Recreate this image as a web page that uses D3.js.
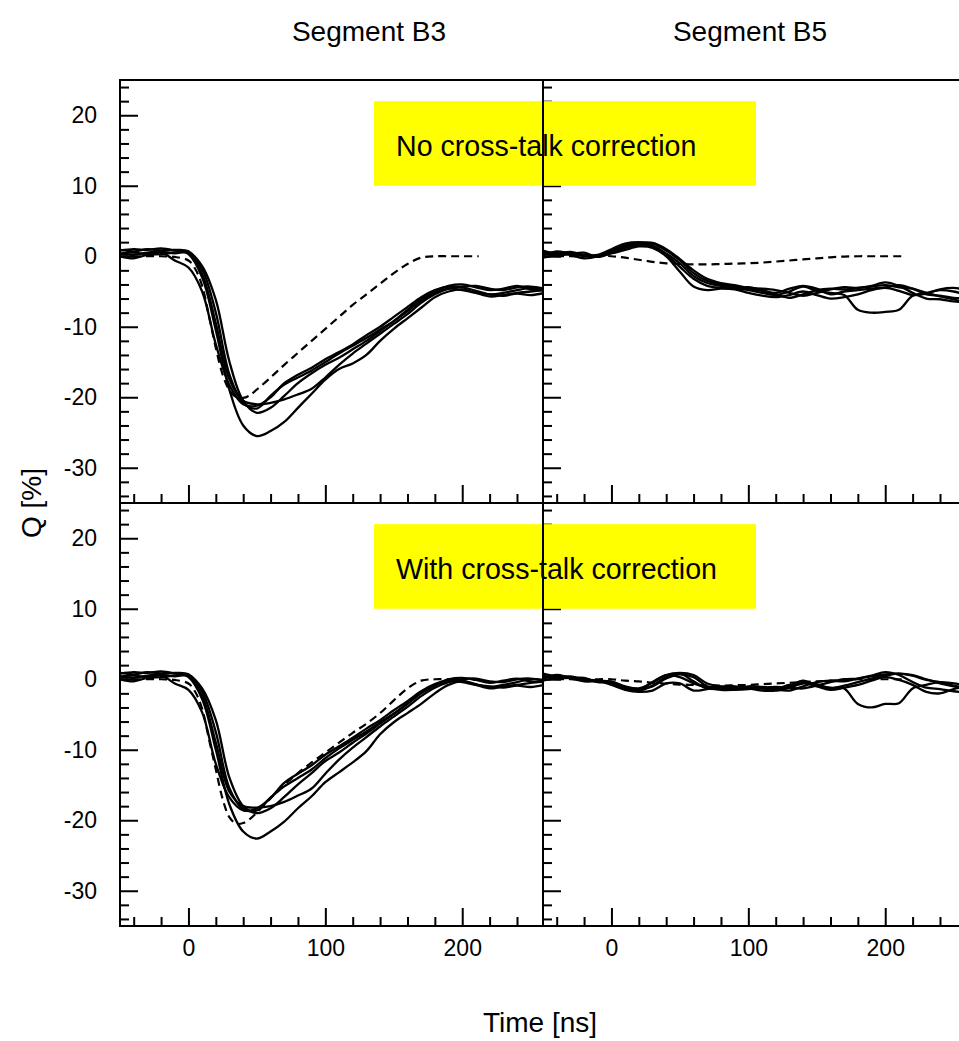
<!DOCTYPE html>
<html>
<head>
<meta charset="utf-8">
<script src="https://cdn.jsdelivr.net/npm/d3@7"></script>
<style>
  html, body { margin: 0; padding: 0; background: #fff; }
  svg { display: block; }
  text { font-family: "Liberation Sans", Arial, sans-serif; fill: #000; }
</style>
</head>
<body>
<svg id="chart" width="959" height="1041"></svg>
<script>
// ---------------- DATA ----------------
const panelTitles = ["Segment B3", "Segment B5"];
const boxLabels = ["No cross-talk correction", "With cross-talk correction"];
const xLabel = "Time [ns]";
const yLabel = "Q [%]";

const xTickLabels = [0, 100, 200];
const yTickLabels = [-30, -20, -10, 0, 10, 20];

// sample times (ns) for measured traces
const tSamples = [-50,-40,-30,-20,-10,0,10,20,30,40,50,60,70,80,90,100,110,120,130,140,150,160,170,180,190,200,210,220,230,240,250,260];

// Segment B3, no correction (5 measured traces)
const b3Raw1 = [0.3,0.2,0.5,0.6,-0.6,-1.6,-5,-12.5,-18.3,-21,-21.2,-20,-18,-16.8,-15.8,-14.6,-13.6,-12.5,-11.2,-10,-8.6,-7.2,-5.8,-4.8,-4.3,-4.4,-4.9,-5.4,-5.2,-4.8,-4.5,-4.6];
const b3Raw2 = [0.8,1.0,0.9,1.1,0.8,0.3,-3,-10.5,-19,-24,-25.5,-24.8,-23.5,-21.5,-19.5,-17.5,-16,-15.2,-14,-12,-10.3,-8.8,-7.3,-5.8,-5,-4.7,-5.2,-5.7,-5.5,-5.2,-5,-4.8];
const b3Raw3 = [0,-0.3,0.2,0.3,0.5,0.6,-1.4,-6.2,-15,-20.5,-22.2,-21.5,-19.8,-18,-16.6,-15.4,-14.4,-13.2,-12,-10.6,-9.2,-7.8,-6.3,-5.2,-4.6,-4.8,-5.2,-5.4,-5.6,-5.3,-5.5,-5.2];
const b3Raw4 = [0.4,0.5,0.3,0.6,0.4,0.5,-2.5,-9.5,-17.5,-20.5,-21,-20.8,-20.3,-19.6,-18.8,-17.2,-15.4,-13.8,-12.4,-11,-9.6,-8.2,-6.6,-5.4,-4.6,-4.3,-4.2,-4.6,-4.8,-4.4,-4.3,-4.6];
const b3Raw5 = [0.9,0.7,1.0,0.8,0.9,0.7,-1.8,-8,-16.8,-20.8,-21.6,-19.8,-18.2,-17.2,-16.2,-15,-13.8,-12.7,-11.6,-10.4,-9.2,-7.6,-6,-4.9,-4.2,-4,-4.4,-4.8,-4.6,-4.2,-4.7,-4.8];

// Segment B3, with correction
const b3Cor1 = [0.3,0.2,0.5,0.6,-0.6,-1.5,-4.7,-12,-16.8,-18.6,-18.3,-16.8,-14.7,-13.4,-12.2,-10.7,-9.5,-8.3,-7,-5.8,-4.4,-3.1,-1.7,-0.7,-0.1,-0.2,-0.7,-1.1,-0.8,-0.4,0,-0.1];
const b3Cor2 = [0.8,1.0,0.9,1.1,0.8,0.3,-2.8,-10,-17.8,-21.6,-22.6,-21.6,-20.2,-18.3,-16.6,-14.6,-13.2,-11.8,-10.2,-7.8,-6.1,-4.8,-3.5,-2,-0.8,-0.3,-0.8,-1.3,-1,-0.8,-0.5,-0.3];
const b3Cor3 = [0,-0.3,0.2,0.3,0.5,0.6,-1.3,-5.8,-14,-18,-19,-18.3,-16.7,-14.9,-13.3,-11.6,-10.4,-9,-7.7,-6.3,-4.9,-3.5,-2,-0.9,-0.3,-0.4,-0.8,-1,-1.2,-0.9,-1.1,-0.8];
const b3Cor4 = [0.4,0.5,0.3,0.6,0.4,0.5,-2.3,-9,-16,-18,-18.2,-18,-17.4,-16.5,-15.5,-13.4,-11.4,-9.7,-8.2,-6.7,-5.3,-3.9,-2.4,-1.2,-0.4,0,0.1,-0.3,-0.4,0,0.1,-0.2];
const b3Cor5 = [0.9,0.7,1.0,0.8,0.9,0.7,-1.7,-7.5,-15.5,-18.4,-18.6,-16.8,-15.2,-14,-12.8,-11.2,-9.8,-8.6,-7.4,-6.1,-4.9,-3.4,-1.9,-0.8,0,0.2,-0.1,-0.5,-0.2,0.1,-0.3,-0.4];

// Segment B5, no correction
const b5Raw1 = [0.3,0.5,0.2,-0.3,0,0.8,1.5,1.9,1.5,0.2,-1.5,-3.2,-4.2,-4.5,-4.6,-4.8,-5.2,-5.5,-5,-4.3,-4.9,-5.2,-5.5,-7.6,-8,-7.9,-7.6,-5.6,-5.2,-4.8,-5,-5.5];
const b5Raw2 = [0.8,0.4,0.6,0.2,0.2,1.0,1.8,2,1.8,0.8,-0.6,-2.4,-3.5,-4,-4.3,-4.6,-4.9,-5.4,-5.9,-5.4,-4.8,-4.6,-4.7,-4.5,-4.2,-3.7,-4.2,-5.2,-6,-6.1,-6.4,-6.5];
const b5Raw3 = [-0.2,0.2,0.5,0,0.1,0.6,1.2,1.6,1.9,1,-0.4,-2,-3.2,-3.8,-4.1,-4.5,-4.6,-4.8,-5.2,-5.6,-5.2,-4.7,-4.4,-4.5,-4.3,-4.1,-4.4,-4.6,-5.2,-5.7,-6.1,-6.8];
const b5Raw4 = [0.5,0.1,0.3,0.1,0,0.4,0.9,1.4,1.2,0,-2.2,-4.3,-4.8,-4.6,-4.7,-5.2,-5.6,-5.8,-5.5,-5,-5.5,-6,-5.8,-5.4,-4.8,-4.5,-4.9,-5.5,-5.3,-4.7,-4.5,-4.8];
const b5Raw5 = [0.1,0.7,0.4,0.5,-0.1,0.5,1.3,1.7,1.4,0.4,-1,-2.8,-3.8,-4.2,-4.5,-4.4,-4.8,-5.2,-4.6,-4.2,-4.6,-5.4,-5,-4.8,-4.6,-4.4,-4.1,-4.6,-5.4,-5.6,-5.9,-6];

// Segment B5, with correction
const b5Cor1 = [0.3,0.4,0.1,-0.3,-0.3,-0.5,-1.2,-1.6,-0.9,0.3,0.8,-0.3,-1.3,-1.4,-1.3,-1.2,-1.3,-1.4,-1,-0.2,-0.9,-1.2,-1.3,-3.5,-4,-3.5,-3.4,-1.3,-0.8,-0.4,-0.6,-0.9];
const b5Cor2 = [0.8,0.4,0.4,0,-0.2,-0.3,-1,-1.3,-0.5,0.6,0.9,0.6,-0.6,-1,-1.1,-1.2,-1.3,-1.5,-1.6,-1,-0.4,-0.2,-0.3,0.1,0.5,1,0.6,-0.4,-1.2,-1.4,-1.7,-1.9];
const b5Cor3 = [-0.2,0.2,0.3,-0.1,-0.3,-0.6,-1.4,-1.5,-0.4,0.6,0.3,-0.6,-1.2,-1.5,-1.5,-1.4,-1.2,-1.1,-1.2,-1.3,-0.9,-0.4,0,0.1,0.4,0.7,0.8,0.6,0,-0.6,-1,-1.5];
const b5Cor4 = [0.5,0.1,0.2,-0.1,-0.2,-0.8,-1.5,-1.8,-1.6,-0.6,-0.6,-1.6,-1.4,-1.1,-1,-1.3,-1.6,-1.6,-1.2,-0.6,-1,-1.5,-1.2,-0.8,-0.2,0.3,-0.1,-0.8,-1.8,-2,-1.4,-1];
const b5Cor5 = [0.1,0.6,0.2,0.2,-0.4,-0.4,-1.1,-1.4,-1,0.1,0.7,0.3,-1,-1.2,-1.4,-1,-1.1,-1.3,-0.8,-0.5,-0.7,-1.3,-0.9,-0.4,0.1,0.5,0.8,0.5,-0.1,-0.4,-0.9,-1.3];

// simulated (dashed) responses
const dashT = [-50,-40,-30,-20,-10,0,5,10,15,20,25,30,35,40,45,50,60,70,80,90,100,110,120,130,140,150,160,170,180,190,200,212];
const b3SimRaw = [0,0,0,0,-0.1,-0.6,-1.8,-4.2,-8.5,-13,-16.8,-19,-20,-20.1,-19.7,-18.9,-17.2,-15.4,-13.7,-12,-10.3,-8.6,-6.9,-5.4,-3.9,-2.4,-1.1,-0.2,0,0,0,0];
const b3SimCor = [0,0,0,0,-0.1,-0.6,-1.8,-4.2,-8.5,-12.8,-17,-19.6,-20.5,-20.4,-19.8,-18.9,-16.9,-15,-13.3,-11.8,-10.4,-9,-7.6,-6.3,-4.8,-3,-1.3,-0.2,0,0,0,0];
const b5SimRaw = [0,0,0,0,0.1,0,-0.1,-0.2,-0.35,-0.5,-0.65,-0.8,-0.9,-1,-1.05,-1.1,-1.15,-1.15,-1.1,-1.05,-1,-0.9,-0.75,-0.6,-0.45,-0.3,-0.15,-0.05,0,0,0,0];
const b5SimCor = [0,0,0,0,0,0,-0.1,-0.2,-0.25,-0.3,-0.4,-0.5,-0.55,-0.6,-0.7,-0.75,-0.8,-0.85,-0.9,-0.85,-0.8,-0.7,-0.6,-0.5,-0.4,-0.3,-0.2,-0.1,0,0,0,0];

// ---------------- LAYOUT ----------------
const svg = d3.select("#chart");
const L = 120, M = 543, R = 966, T = 80, H = 503, B = 926;
const xDomain = [-50, 259], yDomain = [-35, 25];

const xScales = [
  d3.scaleLinear().domain(xDomain).range([L, M]),
  d3.scaleLinear().domain(xDomain).range([M, R])
];
const yScales = [
  d3.scaleLinear().domain(yDomain).range([H, T]),
  d3.scaleLinear().domain(yDomain).range([B, H])
];

const panels = [
  {col: 0, row: 0, traces: [b3Raw1,b3Raw2,b3Raw3,b3Raw4,b3Raw5], sim: b3SimRaw},
  {col: 1, row: 0, traces: [b5Raw1,b5Raw2,b5Raw3,b5Raw4,b5Raw5], sim: b5SimRaw},
  {col: 0, row: 1, traces: [b3Cor1,b3Cor2,b3Cor3,b3Cor4,b3Cor5], sim: b3SimCor},
  {col: 1, row: 1, traces: [b5Cor1,b5Cor2,b5Cor3,b5Cor4,b5Cor5], sim: b5SimCor}
];

const defs = svg.append("defs");
panels.forEach((p, i) => {
  const x = xScales[p.col], y = yScales[p.row];
  defs.append("clipPath").attr("id", "clip" + i)
    .append("rect")
    .attr("x", x.range()[0]).attr("y", y.range()[1])
    .attr("width", x.range()[1] - x.range()[0])
    .attr("height", y.range()[0] - y.range()[1]);
});

const minorY = d3.range(-34, 25, 2);
const minorX = d3.range(-40, 259, 20);
const fmt = d => String(d);

panels.forEach((p, i) => {
  const x = xScales[p.col], y = yScales[p.row];
  const g = svg.append("g").attr("clip-path", `url(#clip${i})`);
  const line = d3.line().x((d, j) => x(tSamples[j])).y(d => y(d)).curve(d3.curveCatmullRom.alpha(0.5));
  const dline = d3.line().x((d, j) => x(dashT[j])).y(d => y(d)).curve(d3.curveCatmullRom.alpha(0.5));
  g.append("path").datum(p.sim).attr("d", dline)
    .attr("fill", "none").attr("stroke", "#000").attr("stroke-width", 2.2)
    .attr("stroke-dasharray", "8,5");
  p.traces.forEach(tr => {
    g.append("path").datum(tr).attr("d", line)
      .attr("fill", "none").attr("stroke", "#000").attr("stroke-width", 2.3)
      .attr("stroke-linejoin", "round");
  });

  // y ticks (inside, pointing right)
  const yMinor = svg.append("g").attr("transform", `translate(${x.range()[0]},0)`)
    .call(d3.axisLeft(y).tickValues(minorY.filter(v => v % 10 !== 0)).tickSize(-9).tickFormat(""));
  const yMajor = svg.append("g").attr("transform", `translate(${x.range()[0]},0)`)
    .call(d3.axisLeft(y).tickValues(yTickLabels).tickSize(-18).tickPadding(23)
      .tickFormat(p.col === 0 ? fmt : ""));
  // x ticks (inside, pointing up)
  const xMinor = svg.append("g").attr("transform", `translate(0,${y.range()[0]})`)
    .call(d3.axisBottom(x).tickValues(minorX.filter(v => v % 100 !== 0)).tickSize(-9).tickFormat(""));
  const xMajor = svg.append("g").attr("transform", `translate(0,${y.range()[0]})`)
    .call(d3.axisBottom(x).tickValues(xTickLabels).tickSize(-18).tickPadding(14)
      .tickFormat(p.row === 1 ? fmt : ""));
  [yMinor, yMajor, xMinor, xMajor].forEach(a => {
    a.select(".domain").remove();
    a.selectAll(".tick line").attr("stroke", "#000").attr("stroke-width", 2);
    a.selectAll(".tick text").style("font-size", "23px")
      .style("font-family", '"Liberation Sans", Arial, sans-serif').attr("fill", "#000");
  });
});

// yellow boxes
yScales.forEach((y, r) => {
  svg.append("rect").attr("x", 374).attr("y", y(22))
    .attr("width", 382).attr("height", y(10) - y(22)).attr("fill", "#ffff00");
  svg.append("text").attr("x", 396).attr("y", y(22) + 55)
    .style("font-size", "28.6px").text(boxLabels[r]);
});

// frame lines
const frame = svg.append("g").attr("stroke", "#000").attr("stroke-width", 2);
[L, M].forEach(xx => frame.append("line").attr("x1", xx).attr("x2", xx).attr("y1", T).attr("y2", B));
[T, H, B].forEach(yy => frame.append("line").attr("x1", L - 1).attr("x2", R).attr("y1", yy).attr("y2", yy));

// titles and axis labels
svg.append("text").attr("x", 369).attr("y", 41).attr("text-anchor", "middle")
  .style("font-size", "28px").text(panelTitles[0]);
svg.append("text").attr("x", 750).attr("y", 41).attr("text-anchor", "middle")
  .style("font-size", "28px").text(panelTitles[1]);
svg.append("text").attr("x", 540).attr("y", 1032).attr("text-anchor", "middle")
  .style("font-size", "28px").text(xLabel);
svg.append("text").attr("transform", "translate(41,503) rotate(-90)").attr("text-anchor", "middle")
  .style("font-size", "28px").text(yLabel);
</script>
</body>
</html>
